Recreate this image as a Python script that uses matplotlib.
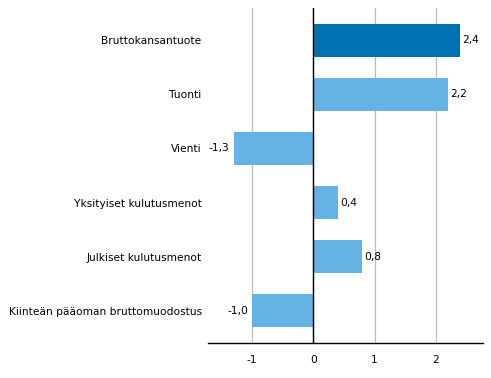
import matplotlib
matplotlib.use("Agg")
import matplotlib.pyplot as plt

categories = ["Bruttokansantuote", "Tuonti", "Vienti", "Yksityiset kulutusmenot",
              "Julkiset kulutusmenot", "Kiinteän pääoman bruttomuodostus"]
values = [2.4, 2.2, -1.3, 0.4, 0.8, -1.0]
colors = ["#0072B2", "#65B2E5", "#65B2E5", "#65B2E5", "#65B2E5", "#65B2E5"]
xticks = [-1, 0, 1, 2]

plt.rcParams['font.family'] = ['DejaVu Sans']
fig = plt.figure(figsize=(4.91, 3.78), dpi=100)
ax = fig.add_axes([0.4236, 0.0926, 0.9837 - 0.4236, 0.9788 - 0.0926])

y = list(range(len(categories)))
ax.barh(y, values, height=0.61, color=colors, zorder=3)
ax.set_ylim(5.6, -0.6)
ax.set_xlim(-1.72, 2.77)
ax.set_xticks(xticks)
ax.set_xticklabels([str(t) for t in xticks], fontsize=7.7)
ax.set_yticks(y)
ax.set_yticklabels(categories, fontsize=7.7)
ax.tick_params(axis='both', length=0)
ax.tick_params(axis='y', pad=4.5)
ax.tick_params(axis='x', pad=8.5)
ax.grid(axis='x', color='#BDBDBD', linewidth=0.9, zorder=0)
ax.axvline(0, color='black', linewidth=1.0, zorder=4)
for s in ['top', 'right', 'left']:
    ax.spines[s].set_visible(False)
ax.spines['bottom'].set_linewidth(1.0)

for yi, v in zip(y, values):
    txt = f"{v:.1f}".replace('.', ',')
    if v >= 0:
        ax.annotate(txt, (v, yi), xytext=(1.5, 0), textcoords='offset points',
                    ha='left', va='center', fontsize=7.7)
    else:
        ax.annotate(txt, (v, yi), xytext=(-3, 0), textcoords='offset points',
                    ha='right', va='center', fontsize=7.7)

fig.savefig("out.png", dpi=100)
